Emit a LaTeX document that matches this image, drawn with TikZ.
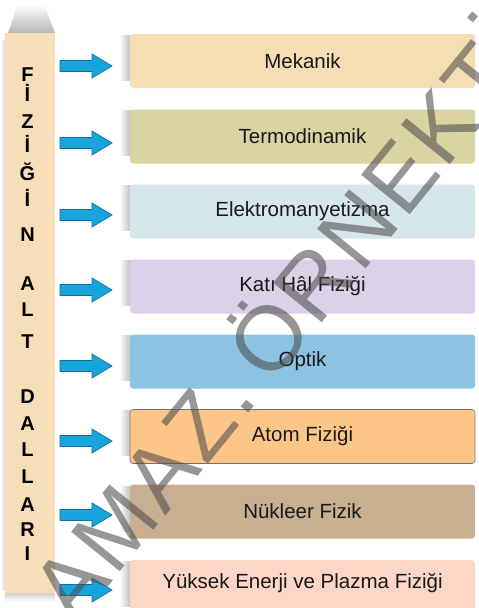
\documentclass[tikz,border=0pt]{standalone}
\usepackage{fontspec}
\setmainfont{Liberation Sans}
\newfontfamily\wmfont[LetterSpace=4]{Liberation Sans}
\definecolor{barcol}{HTML}{F6DEB8}
\definecolor{cA}{HTML}{F6DEB4}
\definecolor{cB}{HTML}{D9D4A2}
\definecolor{cC}{HTML}{D5E7EA}
\definecolor{cD}{HTML}{DAD2E8}
\definecolor{cE}{HTML}{8CC3E2}
\definecolor{cF}{HTML}{FDC689}
\definecolor{cG}{HTML}{C8AF91}
\definecolor{cH}{HTML}{FCD6C6}
\definecolor{arrfill}{HTML}{1AA4DE}
\definecolor{arrline}{HTML}{10719F}
\tikzset{
  topic/.style={rounded corners=3pt, minimum width=345pt, minimum height=54pt,
    inner sep=0pt, font=\fontsize{20.5}{24}\selectfont, text=black!90},
  barletter/.style={font=\bfseries\fontsize{20}{24}\selectfont, inner sep=0pt, anchor=base},
  blockarrow/.style={fill=arrfill, draw=arrline, line width=0.7pt, line join=miter},
  wmark/.style={font=\wmfont\fontsize{91}{91}\selectfont, text=black!70, opacity=0.58, inner sep=0pt},
  sidesh/.style={left color=white, right color=black!24}
}
\begin{document}
\begin{tikzpicture}[x=1pt,y=-1pt]
\useasboundingbox (0,0) rectangle (479,608);
\clip (0,0) rectangle (479,608);
\fill[white] (0,0) rectangle (479,608);
% shadow above the bar
\shade[top color=white, bottom color=black!28] (8,33) -- (55,33) -- (44,4) -- (18,4) -- cycle;
\shade[left color=white, right color=black!14] (0,40) rectangle (5,590);
\shade[top color=black!18, bottom color=white] (5,593) rectangle (55,602);
% the bar
\node[fill=barcol, minimum width=50pt, minimum height=560pt, inner sep=0pt] (bar) at (30,313) {};
\foreach \n/\yb/\t in {1/81.7/F, 2/101.7/İ, 3/128/Z, 4/152/İ, 5/180.7/Ğ, 6/206.7/İ, 7/241.7/N,
  8/290/A, 9/316.7/L, 10/348/T, 11/403/D, 12/430/A, 13/456.7/L, 14/483/L, 15/511.7/A, 16/536.7/R, 17/560/I}
  \node[barletter] (l\n) at (27.5,\yb) {\t};
% shadows left of the boxes
\foreach \yt in {34,109,184,259,334,409,485,560}
  \shade[sidesh] (119,\yt+1) rectangle (130.5,\yt+46);
% boxes
\node[topic, fill=cA] (b1) at (302.5,61) {Mekanik};
\node[topic, fill=cB] (b2) at (302.5,136.5) {Termodinamik};
\node[topic, fill=cC] (b3) at (302.5,211.5) {Elektromanyetizma};
\node[topic, fill=cD] (b4) at (302.5,286.5) {Katı Hâl Fiziği};
\node[topic, fill=cE] (b5) at (302.5,361.5) {Optik};
\node[topic, fill=cF, draw=black!55, line width=0.6pt] (b6) at (302.5,436.5) {Atom Fiziği};
\node[topic, fill=cG] (b7) at (302.5,511.5) {Nükleer Fizik};
\node[topic, fill=cH, minimum height=56pt] (b8) at (302.5,588) {};
\node[font=\fontsize{20.5}{24}\selectfont, text=black!90, inner sep=0pt] (b8t) at (302.5,583) {Yüksek Enerji ve Plazma Fiziği};
% block arrows
\foreach \y in {66,143,215,290,366,441,515,590}
  \path[blockarrow] (60,\y-5.5) -- (92,\y-5.5) -- (92,\y-12) -- (112,\y) -- (92,\y+12) -- (92,\y+5.5) -- (60,\y+5.5) -- cycle;
% watermark
\node[wmark, rotate=51, anchor=base west] (wm2) at (271,386) {ÖRNEKTİR};
\node[wmark, rotate=51, anchor=base east] (wm1) at (wm2.base west) {SATILAMAZ.\kern0.2em};
\end{tikzpicture}
\end{document}
